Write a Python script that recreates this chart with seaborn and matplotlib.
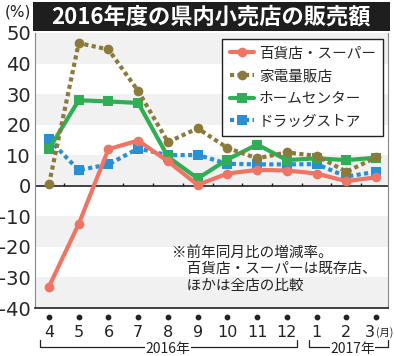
import matplotlib
matplotlib.use("Agg")
import matplotlib.pyplot as plt
import seaborn as sns
import pandas as pd
import numpy as np
from matplotlib.patches import Rectangle

months = ["4", "5", "6", "7", "8", "9", "10", "11", "12", "1", "2", "3"]
dept_super = [-33, -12.5, 12, 14.8, 8, 0.3, 4.0, 5.2, 5.0, 4.0, 1.5, 2.8]
electronics = [0.5, 46.7, 44.6, 31, 14.3, 18.8, 12.4, 9.0, 10.9, 9.8, 4.6, 9.3]
home_center = [12, 28, 27.6, 27.1, 9.5, 2.4, 8.6, 13.5, 8.4, 9.0, 8.4, 9.2]
drugstore = [15.2, 5.1, 7.0, 12.2, 10.0, 10.1, 7.2, 7.0, 7.0, 7.1, 3.0, 4.6]
series_names = ["百貨店・スーパー", "家電量販店", "ホームセンター", "ドラッグストア"]
title = "2016年度の県内小売店の販売額"
note = "※前年同月比の増減率。\n　百貨店・スーパーは既存店、\n　ほかは全店の比較"

sns.set_theme(style="white")
plt.rcParams["font.family"] = ["Noto Sans CJK JP", "DejaVu Sans"]

fig = plt.figure(figsize=(3.94, 3.56), dpi=100)
W, H = 394, 356
ax = fig.add_axes([35 / W, 1 - 308 / H, 353 / W, 275 / H])

x = np.arange(len(months))
df = pd.DataFrame({"x": x, "s0": dept_super, "s1": electronics, "s2": home_center, "s3": drugstore})

# background bands
for lo in [40, 20, 0, -20, -40]:
    ax.axhspan(lo, lo + 10, color="#f1f1f1", zorder=0, lw=0)

styles = [
    dict(col="s3", color="#2b8fd6", ls=(0, (1, 0.8)), marker="s", ms=7, z=3),
    dict(col="s2", color="#2fae55", ls="-", marker="s", ms=7, z=4),
    dict(col="s1", color="#8c7a3c", ls=(0, (1, 0.8)), marker="o", ms=7, z=5),
    dict(col="s0", color="#f07464", ls="-", marker="o", ms=7, z=6),
]
name_map = {"s0": series_names[0], "s1": series_names[1], "s2": series_names[2], "s3": series_names[3]}
for st in styles:
    sns.lineplot(data=df, x="x", y=st["col"], ax=ax, color=st["color"], lw=3,
                 linestyle=st["ls"], marker=st["marker"], markersize=st["ms"],
                 markeredgewidth=0, label=name_map[st["col"]], zorder=st["z"])

ax.set_xlim(-0.47, 11.4)
ax.set_ylim(-40, 50)
ax.set_yticks(range(-40, 51, 10))
ax.set_yticklabels([str(v) for v in range(-40, 51, 10)], fontsize=14,
                   family=["DejaVu Sans"])
ax.tick_params(axis="y", length=0, pad=3)
ax.set_xticks([])
ax.set_xlabel("")
ax.set_ylabel("")

for side in ["left", "right"]:
    ax.spines[side].set_color("#888888")
    ax.spines[side].set_linewidth(0.8)
ax.spines["bottom"].set_color("#222222")
ax.spines["bottom"].set_linewidth(1.2)
ax.spines["top"].set_visible(False)

# zero line with small ticks
ax.axhline(0, color="#222222", lw=1.2, zorder=2)
ax.vlines(x[:-1] + 0.5, 0, 1.0, color="#222222", lw=1, zorder=2)

# month dots and labels
ax.scatter(x, [-42.9] * len(x), s=10, color="#222222", clip_on=False)
for xi, m in zip(x, months):
    xo = xi - 0.22 if xi == x[-1] else xi
    ax.text(xo, -48.0, m, ha="center", va="center", fontsize=11.5,
            family=["DejaVu Sans"], color="#222222", clip_on=False)
ax.text(x[-1] - 0.02, -48.0, "(月)", ha="left", va="center", fontsize=7.5, color="#222222",
        clip_on=False)

# year brackets
def bracket(x0, x1, label, xc):
    ax.plot([x0, x0, x1, x1], [-50.6, -52.9, -52.9, -50.6], color="#222222", lw=0.9, clip_on=False)
    ax.text(xc, -53.3, label, ha="center", va="center", fontsize=10,
            color="#222222", clip_on=False,
            bbox=dict(facecolor="white", edgecolor="none", pad=0.3))

bracket(-0.3, 8.35, "2016年", 4.0)
bracket(8.75, 11.4, "2017年", 10.2)

# note
ax.text(4.15, -27.3, note, ha="left", va="center", fontsize=10.5, linespacing=1.25,
        color="#222222", zorder=7)

# legend
handles, labels = ax.get_legend_handles_labels()
order = [3, 2, 1, 0]
leg = ax.legend([handles[i] for i in order], [labels[i] for i in order],
                loc="upper right", bbox_to_anchor=(0.986, 0.978), borderaxespad=0,
                fontsize=10.5, frameon=True, fancybox=False, edgecolor="#222222",
                framealpha=1, handlelength=1.7, handletextpad=0.3, borderpad=0.5,
                labelspacing=0.6)
leg.get_frame().set_linewidth(1.0)
leg.set_zorder(10)

# title bar
fig.patches.append(Rectangle((33 / W, 1 - 31 / H), 357 / W, 29 / H, transform=fig.transFigure,
                             facecolor="#1e1e1e", edgecolor="none", zorder=5))
fig.text(211 / W, 1 - 17 / H, title, ha="center", va="center", fontsize=16,
         fontweight="bold", color="white", zorder=6)
fig.text(5 / W, 1 - 12 / H, "(%)", ha="left", va="center", fontsize=11,
         family=["DejaVu Sans"], color="#222222")

fig.savefig("out.png", dpi=100)
